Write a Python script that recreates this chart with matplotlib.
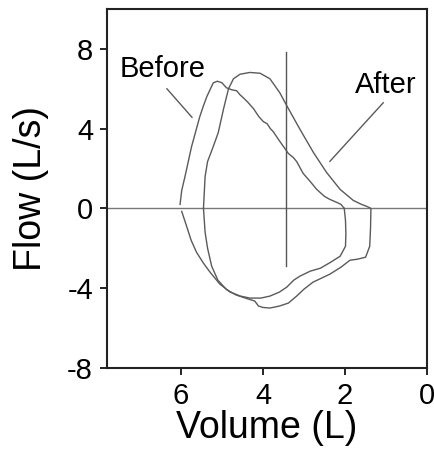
import matplotlib
matplotlib.use('Agg')
import matplotlib.pyplot as plt

plt.rcParams['font.family'] = ['Liberation Sans', 'DejaVu Sans']
plt.rcParams['axes.unicode_minus'] = False   # reference uses a plain hyphen

# flow-volume loops (volume in L, flow in L/s)
before_exp_v = [6.02, 5.98, 5.9, 5.82, 5.74, 5.64, 5.54, 5.45, 5.37, 5.28, 5.21, 5.11, 5.0, 4.89, 4.76,
                4.64, 4.56, 4.48, 4.38, 4.23, 4.1, 3.99, 3.9, 3.82, 3.75, 3.62, 3.5, 3.38, 3.26, 3.18,
                3.1, 3.02, 2.85, 2.69, 2.5, 2.37, 2.2, 2.1, 2.02]
before_exp_f = [0.2, 0.9, 1.6, 2.35, 3.1, 3.85, 4.6, 5.15, 5.6, 6.0, 6.3, 6.38, 6.3, 6.05, 5.95,
                5.9, 5.7, 5.55, 5.35, 5.0, 4.6, 4.35, 4.25, 4.0, 3.85, 3.45, 3.1, 2.75, 2.55, 2.35,
                2.05, 1.75, 1.35, 0.95, 0.6, 0.45, 0.3, 0.2, 0.0]
before_insp_v = [2.02, 1.99, 1.98, 1.99, 2.12, 2.35, 2.6, 2.85, 3.1, 3.25, 3.42, 3.6, 3.83, 4.05,
                 4.32, 4.55, 4.8, 5.05, 5.29, 5.45, 5.62, 5.75, 5.86, 5.98]
before_insp_f = [0.0, -0.6, -1.3, -1.9, -2.4, -2.7, -3.0, -3.15, -3.4, -3.6, -3.95, -4.2, -4.4, -4.5,
                 -4.5, -4.4, -4.2, -3.8, -3.2, -2.75, -2.2, -1.6, -0.9, -0.15]

after_v = [5.45, 5.43, 5.41, 5.35, 5.23, 5.09, 4.96, 4.84, 4.72, 4.56, 4.32, 4.07, 3.83, 3.59, 3.42,
           3.1, 2.77, 2.45, 2.12, 1.8, 1.6, 1.47, 1.37,
           1.38, 1.4, 1.5, 1.7, 1.88, 2.1, 2.37, 2.78, 3.0, 3.18, 3.38, 3.6, 3.83, 4.0, 4.11, 4.2,
           4.4, 4.65, 4.89, 5.1, 5.25, 5.35, 5.41, 5.45]
after_f = [0.0, 0.8, 1.6, 2.35, 3.0, 3.8, 5.0, 6.0, 6.5, 6.73, 6.82, 6.78, 6.5, 5.8, 5.15,
           3.97, 2.8, 1.8, 0.95, 0.4, 0.2, 0.1, 0.0,
           -1.0, -1.9, -2.45, -2.55, -2.6, -2.95, -3.3, -3.7, -4.05, -4.4, -4.75, -4.9, -5.0, -4.97, -4.9, -4.65,
           -4.52, -4.35, -4.07, -3.6, -2.9, -2.0, -1.2, 0.0]

# vertical marker line
marker_v = 3.44
marker_f = [-2.9, 7.85]

xticks = [6, 4, 2, 0]
yticks = [-8, -4, 0, 4, 8]

fig = plt.figure(figsize=(4.35, 4.53), dpi=100)
ax = fig.add_axes([0.246, 0.188, 0.736, 0.792])

col = '#5a5a5a'
ax.axhline(0, color='#777777', lw=1.0)
ax.plot([marker_v, marker_v], marker_f, color='#555555', lw=1.0)
ax.plot(before_exp_v, before_exp_f, color=col, lw=1.0)
ax.plot(before_insp_v, before_insp_f, color=col, lw=1.0)
ax.plot(after_v, after_f, color=col, lw=1.0)

# labels with pointer lines
ax.text(6.44, 7.0, 'Before', fontsize=21, ha='center', va='center')
ax.plot([6.34, 5.73], [6.0, 4.57], color=col, lw=1.0)
ax.text(1.02, 6.2, 'After', fontsize=21, ha='center', va='center')
ax.plot([1.07, 2.37], [5.3, 2.36], color=col, lw=1.0)

ax.set_xlim(7.8, 0)
ax.set_ylim(-8, 10)
ax.set_xticks(xticks)
ax.set_yticks(yticks)
ax.tick_params(labelsize=21, length=5, width=1.2, direction='out', pad=5)
ax.set_xlabel('Volume (L)', fontsize=27, labelpad=0)
ax.set_ylabel('Flow (L/s)', fontsize=27, labelpad=13)
for s in ax.spines.values():
    s.set_linewidth(1.5)
    s.set_color('#222222')

fig.savefig('out.png', dpi=100)
